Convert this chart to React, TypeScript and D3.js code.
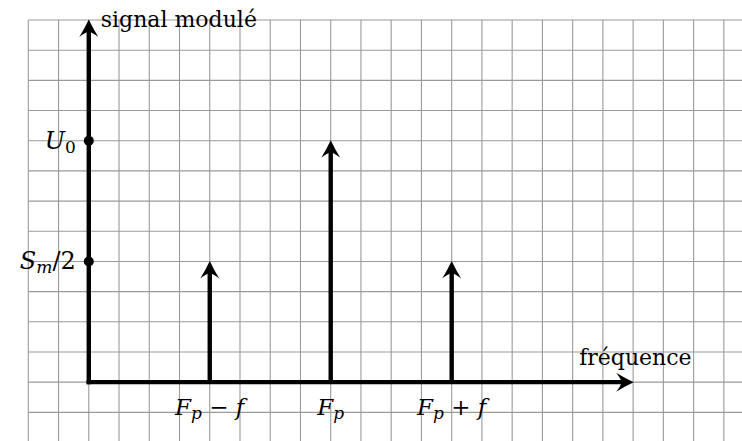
import * as d3 from 'd3';
import React, { useRef, useEffect } from 'react';

// grid units, origin at the foot of the axes
const gridCols = d3.range(-2, 22);
const gridRows = d3.range(-1, 13);

const spectrePos = [4, 8, 12];
const spectreAmp = [4, 8, 4];
const spectreMain = ['F', 'F', 'F'];
const spectreSub = ['p', 'p', 'p'];
const spectreTail = [' − ', '', ' + '];
const spectreTailVar = ['f', '', 'f'];

const levelValues = [8, 4];
const levelMain = ['U', 'S'];
const levelSub = ['0', 'm'];
const levelTail = ['', '/2'];

const xAxisEnd = 18;
const yAxisEnd = 12;
const yTitle = 'signal modulé';
const xTitle = 'fréquence';

const W = 742;
const H = 441;

const App = () => {
  const ref = useRef<SVGSVGElement>(null);

  useEffect(() => {
    const svg = d3.select(ref.current);
    svg.selectAll('*').remove();

    const x = d3.scaleLinear().domain([-2, 21.6]).range([28.3, 742]);
    const y = d3.scaleLinear().domain([12, -1.95]).range([20, 441]);

    const serif = '"DejaVu Serif", "Liberation Serif", serif';

    // grid
    const grid = svg.append('g').attr('stroke', '#9a9a9a').attr('stroke-width', 1.1);
    grid.selectAll('line.v')
      .data(gridCols)
      .enter().append('line')
      .attr('class', 'v')
      .attr('x1', d => x(d)).attr('x2', d => x(d))
      .attr('y1', y(12)).attr('y2', H);
    grid.selectAll('line.h')
      .data(gridRows)
      .enter().append('line')
      .attr('class', 'h')
      .attr('x1', x(-2)).attr('x2', W)
      .attr('y1', d => y(d)).attr('y2', d => y(d));

    // arrow head, tip at (0,0), pointing up
    const head = 'M0,-0.5 Q4,8 9.5,17 Q4,12.5 0,11.5 Q-4,12.5 -9.5,17 Q-4,8 0,-0.5 Z';

    const drawArrow = (x1: number, y1: number, x2: number, y2: number) => {
      const ang = Math.atan2(y2 - y1, x2 - x1) * 180 / Math.PI + 90;
      const len = Math.hypot(x2 - x1, y2 - y1);
      const ux = (x2 - x1) / len, uy = (y2 - y1) / len;
      svg.append('line')
        .attr('x1', x1).attr('y1', y1)
        .attr('x2', x2 - ux * 10).attr('y2', y2 - uy * 10)
        .attr('stroke', '#000').attr('stroke-width', 4.4);
      svg.append('path')
        .attr('d', head)
        .attr('transform', `translate(${x2},${y2}) rotate(${ang})`)
        .attr('fill', '#000');
    };

    // spectral lines
    spectrePos.forEach((p, i) => {
      drawArrow(x(p), y(0), x(p), y(spectreAmp[i]));
    });

    // axes
    drawArrow(x(0), y(0) + 2.2, x(0), y(yAxisEnd));
    drawArrow(x(0) - 2.2, y(0), x(xAxisEnd), y(0));

    // level dots and labels
    levelValues.forEach((v, i) => {
      svg.append('circle')
        .attr('cx', x(0)).attr('cy', y(v)).attr('r', 5).attr('fill', '#000');
      const t = svg.append('text')
        .attr('x', x(0) - 13).attr('y', y(v) + 8)
        .attr('text-anchor', 'end')
        .attr('font-family', serif).attr('font-size', 24);
      t.append('tspan').attr('font-style', 'italic').text(levelMain[i]);
      t.append('tspan').attr('font-size', 17).attr('dy', 4)
        .attr('font-style', levelSub[i] === '0' ? 'normal' : 'italic').text(levelSub[i]);
      if (levelTail[i]) t.append('tspan').attr('dy', -4).text(levelTail[i]);
    });

    // frequency labels
    spectrePos.forEach((p, i) => {
      const t = svg.append('text')
        .attr('x', x(p)).attr('y', y(0) + 33)
        .attr('text-anchor', 'middle')
        .attr('font-family', serif).attr('font-size', 23);
      t.append('tspan').attr('font-style', 'italic').text(spectreMain[i]);
      t.append('tspan').attr('font-style', 'italic').attr('font-size', 17).attr('dy', 4).text(spectreSub[i]);
      if (spectreTail[i]) {
        t.append('tspan').attr('dy', -4).text(spectreTail[i]);
        t.append('tspan').attr('font-style', 'italic').text(spectreTailVar[i]);
      }
    });

    // titles
    svg.append('text')
      .attr('x', x(0) + 12).attr('y', y(yAxisEnd) + 7)
      .attr('font-family', serif).attr('font-size', 22)
      .text(yTitle);
    svg.append('text')
      .attr('x', x(xAxisEnd) - 54).attr('y', y(0) - 17)
      .attr('font-family', serif).attr('font-size', 22)
      .text(xTitle);
  }, []);

  return (
    <div>
      <svg ref={ref} width={W} height={H}
        style={{ position: 'absolute', left: 0, top: 0, background: '#fff' }} />
    </div>
  );
};

export default App;
